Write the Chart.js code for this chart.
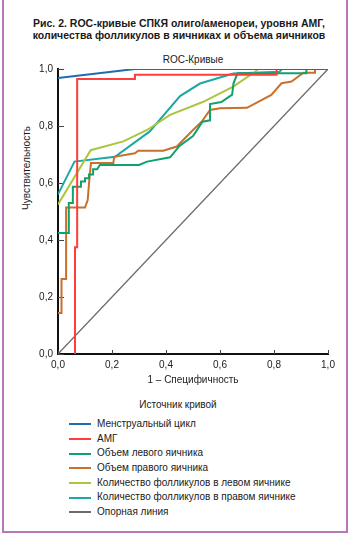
<!DOCTYPE html>
<html>
<head>
<meta charset="utf-8">
<script src="https://cdn.jsdelivr.net/npm/chart.js@4"></script>
<style>
  body { margin: 0; background: #fff; font-family: "Liberation Sans", Arial, sans-serif; color: #1a1a1a; }
  #wrap { position: relative; width: 350px; height: 535px; overflow: hidden; }
  #frame { position: absolute; left: 2px; top: -3px; width: 346px; height: 536px; box-sizing: border-box; border: 2px solid #b677b6; }
  .txt { position: absolute; white-space: nowrap; font-size: 10px; line-height: 12px; }
  .t { left: 0; width: 358px; text-align: center; font-weight: bold; font-size: 10.5px; }
  #t1 { top: 17px; }
  #t2 { top: 29px; }
  #sub { top: 54px; left: 0; width: 386px; text-align: center; }
  #ytitle { left: -33px; top: 162px; width: 120px; text-align: center; transform: rotate(-90deg); }
  #legendTitle { top: 399px; left: 0; width: 356px; text-align: center; }
  canvas { position: absolute; left: 0; top: 0; }
  #legend { position: absolute; left: 69px; top: 417px; margin: 0; padding: 0; list-style: none; font-size: 10px; }
  #legend li { height: 14.7px; line-height: 14.7px; white-space: nowrap; }
  #legend span { display: inline-block; width: 22px; height: 2px; margin-right: 6px; vertical-align: middle; }
</style>
</head>
<body>
<div id="wrap">
  <div id="frame"></div>
  <div class="txt t" id="t1">Рис. 2. ROC-кривые СПКЯ олиго/аменореи, уровня АМГ,</div>
  <div class="txt t" id="t2">количества фолликулов в яичниках и объема яичников</div>
  <div class="txt" id="sub">ROC-Кривые</div>
  <div class="txt" id="ytitle">Чувствительность</div>
  <canvas id="chart" width="350" height="395"></canvas>
  <div class="txt" id="legendTitle">Источник кривой</div>
  <ul id="legend"></ul>
</div>
<script>
const $ = id => document.getElementById(id);

// [1 - специфичность, чувствительность]
const menstrualCycle = [[0, 0.968], [0.285, 1], [1, 1]];
const amh = [[0.063, 0], [0.063, 0.375], [0.071, 0.375], [0.071, 0.965], [0.285, 0.965],
  [0.285, 0.98], [0.81, 0.98], [0.81, 1], [1, 1]];
const leftVolume = [[0, 0.425], [0.04, 0.425], [0.04, 0.53], [0.055, 0.53], [0.055, 0.587],
  [0.085, 0.587], [0.085, 0.605], [0.1, 0.605], [0.1, 0.617], [0.115, 0.617], [0.115, 0.63],
  [0.13, 0.63], [0.13, 0.648], [0.145, 0.648], [0.155, 0.663], [0.3, 0.663], [0.33, 0.675],
  [0.415, 0.69], [0.45, 0.73], [0.5, 0.765], [0.535, 0.815], [0.563, 0.82], [0.563, 0.877],
  [0.605, 0.884], [0.645, 0.91], [0.65, 0.95], [0.665, 0.985], [0.92, 0.985], [0.92, 1], [1, 1]];
const rightVolume = [[0, 0.144], [0.013, 0.144], [0.013, 0.263], [0.03, 0.263], [0.03, 0.514],
  [0.1, 0.514], [0.11, 0.54], [0.115, 0.6], [0.122, 0.67], [0.205, 0.67], [0.208, 0.692],
  [0.285, 0.704], [0.297, 0.713], [0.39, 0.713], [0.44, 0.728], [0.5, 0.786], [0.532, 0.815],
  [0.563, 0.856], [0.6, 0.862], [0.7, 0.864], [0.79, 0.909], [0.828, 0.95], [0.865, 0.956],
  [0.909, 0.987], [0.952, 0.987], [0.952, 1], [1, 1]];
const leftFollicles = [[0, 0.525], [0.121, 0.715], [0.242, 0.746], [0.33, 0.786], [0.415, 0.839],
  [0.538, 0.885], [0.649, 0.938], [0.73, 0.99], [0.74, 1], [1, 1]];
const rightFollicles = [[0, 0.56], [0.061, 0.675], [0.211, 0.692], [0.34, 0.781], [0.452, 0.905],
  [0.526, 0.949], [0.649, 0.984], [0.82, 0.99], [0.83, 1], [1, 1]];
const reference = [[0, 0], [1, 1]];

const labels = ["Менструальный цикл", "АМГ", "Объем левого яичника", "Объем правого яичника",
  "Количество фолликулов в левом яичнике", "Количество фолликулов в правом яичнике", "Опорная линия"];
const series = [menstrualCycle, amh, leftVolume, rightVolume, leftFollicles, rightFollicles, reference];
const colors = ["#1c6db0", "#ff3d3d", "#12a06c", "#c8702c", "#aac640", "#1ea8a2", "#6b6b6b"];
const ticks = [0, 0.2, 0.4, 0.6, 0.8, 1];

const fmt = v => v.toFixed(1).replace(".", ",");

const innerTicks = {
  id: "innerTicks",
  beforeDatasetsDraw(chart) {
    const { ctx, chartArea: a, scales: { x, y } } = chart;
    ctx.save();
    ctx.strokeStyle = "#444";
    ctx.lineWidth = 1;
    ctx.beginPath();
    ticks.forEach(t => {
      const px = Math.round(x.getPixelForValue(t)) + 0.5;
      ctx.moveTo(px, a.bottom);
      ctx.lineTo(px, a.bottom - 4);
      const py = Math.round(y.getPixelForValue(t)) + 0.5;
      ctx.moveTo(a.left, py);
      ctx.lineTo(a.left + 6, py);
    });
    ctx.stroke();
    ctx.restore();
  }
};

const axis = (title) => ({
  type: "linear",
  min: 0,
  max: 1,
  afterBuildTicks: s => { s.ticks = ticks.map(v => ({ value: v })); },
  grid: { drawOnChartArea: false, drawTicks: false },
  border: { color: "#111", width: 2 },
  ticks: { color: "#222", font: { size: 10 }, padding: 5, callback: v => fmt(v) },
  title
});

const xAxis = axis({ display: true, text: "1 – Специфичность", color: "#222",
  font: { size: 10 }, padding: { top: 4, bottom: 9 } });
xAxis.afterFit = s => { s.height = 41; };
const yAxis = axis({ display: false });
yAxis.afterFit = s => { s.width = 38; };

Chart.defaults.font.family = '"Liberation Sans", Arial, sans-serif';

new Chart($("chart"), {
  type: "scatter",
  data: {
    datasets: series.map((pts, i) => ({
      label: labels[i],
      data: pts.map(([x, y]) => ({ x, y })),
      showLine: true,
      borderColor: colors[i],
      borderWidth: i === 6 ? 1.3 : 2,
      pointRadius: 0,
      fill: false
    }))
  },
  options: {
    responsive: false,
    animation: false,
    layout: { padding: { top: 69, right: 22, bottom: 0, left: 20 } },
    plugins: { legend: { display: false }, tooltip: { enabled: false } },
    scales: { x: xAxis, y: yAxis }
  },
  plugins: [innerTicks]
});

$("legend").innerHTML = labels.map((l, i) =>
  `<li><span style="background:${colors[i]}"></span>${l}</li>`).join("");
</script>
</body>
</html>
